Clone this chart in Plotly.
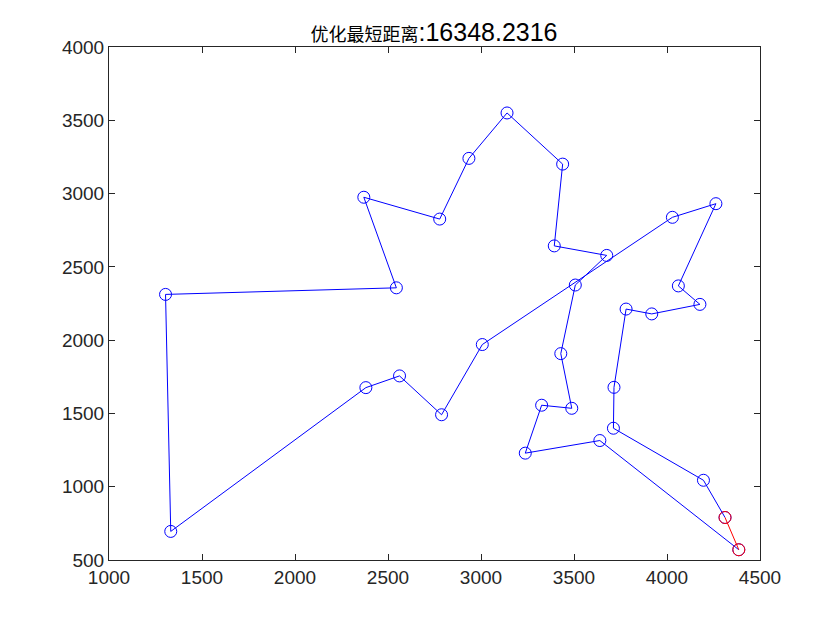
import plotly.graph_objects as go

# 31 city coordinates (city number = index + 1)
city_x = [1304, 3639, 4177, 3712, 3488, 3326, 3238, 4196, 4312, 4386,
          3007, 2562, 2788, 2381, 1332, 3715, 3918, 4061, 3780, 3676,
          4029, 4263, 3429, 3507, 3394, 3439, 2935, 3140, 2545, 2778, 2370]
city_y = [2312, 1315, 2244, 1399, 1535, 1556, 1229, 1044, 790, 570,
          1970, 1756, 1491, 1676, 695, 1678, 2179, 2370, 2212, 2578,
          2838, 2931, 1908, 2376, 2643, 3201, 3240, 3550, 2357, 2826, 2975]

# best tour found (1-based city numbers)
route = [10, 2, 7, 6, 5, 23, 24, 20, 25, 26, 28, 27, 30, 31, 29, 1,
         15, 14, 12, 13, 11, 21, 22, 18, 3, 17, 19, 16, 4, 8, 9]
# closing segment drawn in red
close_seg = [9, 10]

title_label = "优化最短距离"
title_value = ":16348.2316"
ticks = [500, 1000, 1500, 2000, 2500, 3000, 3500, 4000, 4500]

fig = go.Figure()
fig.add_trace(go.Scatter(
    x=[city_x[c - 1] for c in route],
    y=[city_y[c - 1] for c in route],
    mode="lines+markers",
    line=dict(color="#0000FF", width=1),
    marker=dict(symbol="circle-open", size=12, color="#0000FF",
                line=dict(width=1)),
    showlegend=False,
))
fig.add_trace(go.Scatter(
    x=[city_x[c - 1] for c in close_seg],
    y=[city_y[c - 1] for c in close_seg],
    mode="lines+markers",
    line=dict(color="#FF0000", width=1),
    marker=dict(symbol="circle-open", size=12, color="#FF0000",
                line=dict(width=1)),
    showlegend=False,
))

axis_style = dict(
    tickvals=ticks,
    ticks="inside",
    ticklen=6,
    tickcolor="#262626",
    showline=True,
    linecolor="#262626",
    linewidth=1,
    mirror="ticks",
    showgrid=False,
    zeroline=False,
    tickfont=dict(family="Liberation Sans, Arial", size=19, color="#262626"),
)

# page body has an 8px offset, so margins are shifted to match
fig.update_layout(
    width=840,
    height=630,
    paper_bgcolor="white",
    plot_bgcolor="white",
    margin=dict(l=101, r=88, t=39, b=78),
    title=dict(
        text=f'<span style="font-size:18px">{title_label}</span>'
             f'<span style="font-size:25px">{title_value}</span>',
        x=426 / 840,
        xanchor="center",
        y=1 - 25 / 630,
        yanchor="middle",
        font=dict(family="Liberation Sans, Noto Sans CJK SC", size=22,
                  color="#000000"),
    ),
    xaxis=dict(range=[1000, 4500], **axis_style),
    yaxis=dict(range=[500, 4000], **axis_style),
)

fig.write_html("out.html")
